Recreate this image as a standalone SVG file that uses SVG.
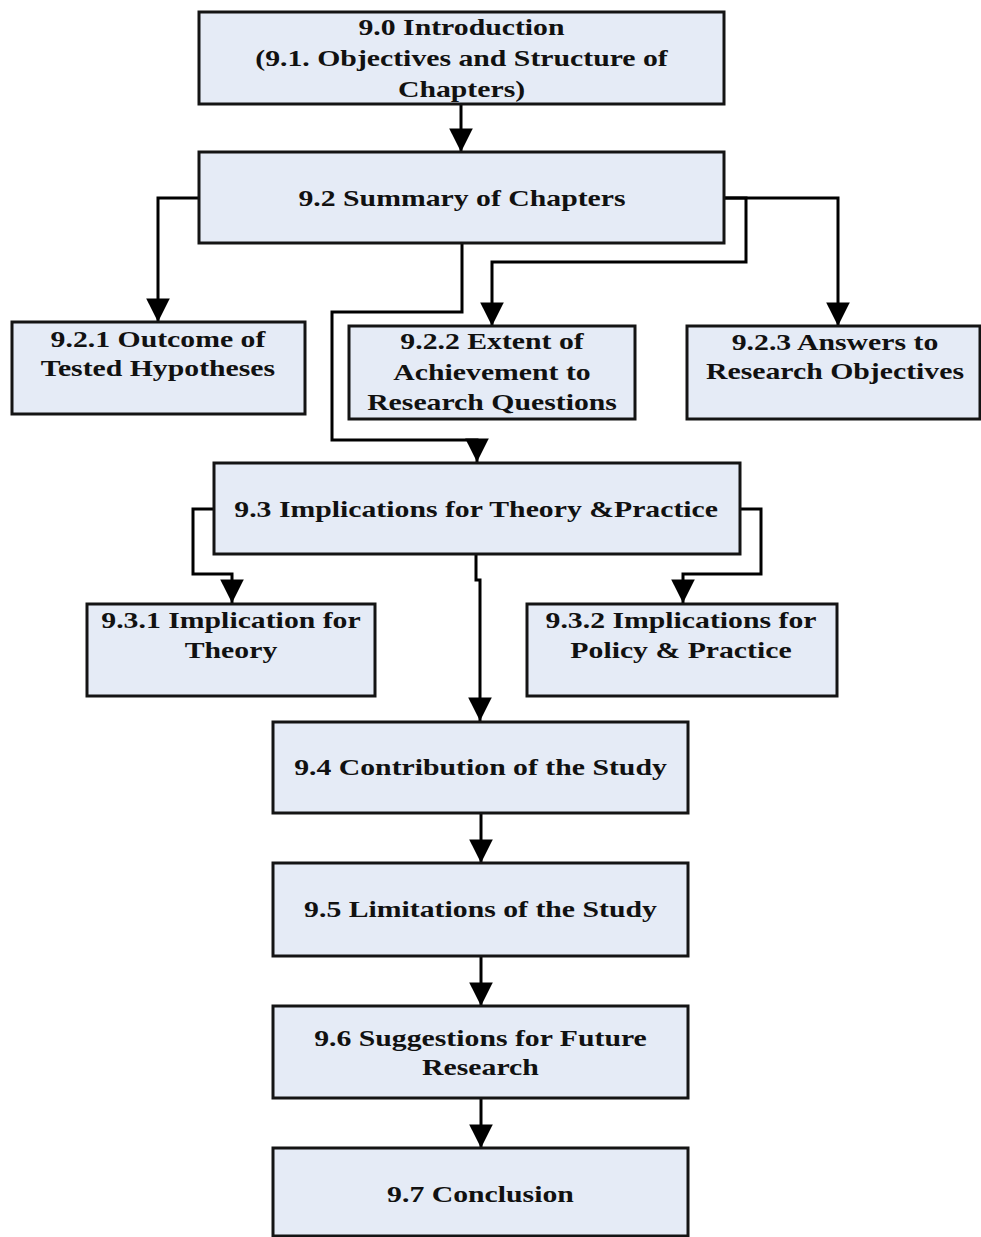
<svg xmlns="http://www.w3.org/2000/svg" width="981" height="1237" viewBox="0 0 981 1237">
<defs>
<style>
.box{fill:#e5ebf6;stroke:#141414;stroke-width:3}
.con{fill:none;stroke:#000;stroke-width:3;marker-end:url(#ah)}
.t{font-family:"Liberation Serif","Times New Roman",serif;font-weight:bold;font-size:24px;fill:#111;text-anchor:middle}
</style>
<marker id="ah" markerUnits="userSpaceOnUse" markerWidth="24" markerHeight="30" viewBox="0 0 22 28" refX="22" refY="11" orient="auto">
<path d="M0 0 L22 11 L0 22 Z" fill="#000"/>
</marker>
</defs>
<rect width="981" height="1237" fill="#fff"/>
<g id="connectors">
<path class="con" d="M461 104 V152"/>
<path class="con" d="M199 198 H158 V322"/>
<path class="con" d="M725 198 H746 V262 H492 V326"/>
<path class="con" d="M725 198 H838 V326"/>
<path class="con" d="M462 243 V312 H332 V440 H477 V462"/>
<path class="con" d="M214 509 H193 V574 H232 V603"/>
<path class="con" d="M740 509 H761 V574 H683 V603"/>
<path class="con" d="M476 554 V580 H480 V721"/>
<path class="con" d="M481 813 V863"/>
<path class="con" d="M481 956 V1006"/>
<path class="con" d="M481 1098 V1148"/>
</g>
<g id="n90"><rect class="box" x="199" y="12" width="525" height="92"/>
<g transform="scale(1.24 1)"><text class="t" x="372.2" y="35">9.0 Introduction</text><text class="t" x="372.2" y="66">(9.1. Objectives and Structure of</text><text class="t" x="372.2" y="97">Chapters)</text></g></g>
<g id="n92"><rect class="box" x="199" y="152" width="525" height="91"/>
<g transform="scale(1.24 1)"><text class="t" x="372.6" y="206">9.2 Summary of Chapters</text></g></g>
<g id="n921"><rect class="box" x="12" y="322" width="293" height="92"/>
<g transform="scale(1.24 1)"><text class="t" x="127.4" y="347">9.2.1 Outcome of</text><text class="t" x="127.4" y="376">Tested Hypotheses</text></g></g>
<g id="n922"><rect class="box" x="349" y="326" width="286" height="93"/>
<g transform="scale(1.24 1)"><text class="t" x="396.8" y="349">9.2.2 Extent of</text><text class="t" x="396.8" y="380">Achievement to</text><text class="t" x="396.8" y="410">Research Questions</text></g></g>
<g id="n923"><rect class="box" x="687" y="326" width="293" height="93"/>
<g transform="scale(1.24 1)"><text class="t" x="673.4" y="350">9.2.3 Answers to</text><text class="t" x="673.4" y="379">Research Objectives</text></g></g>
<g id="n93"><rect class="box" x="214" y="463" width="526" height="91"/>
<g transform="scale(1.24 1)"><text class="t" x="384" y="517">9.3 Implications for Theory &amp;Practice</text></g></g>
<g id="n931"><rect class="box" x="87" y="604" width="288" height="92"/>
<g transform="scale(1.24 1)"><text class="t" x="186.3" y="628">9.3.1 Implication for</text><text class="t" x="186.3" y="658">Theory</text></g></g>
<g id="n932"><rect class="box" x="527" y="604" width="310" height="92"/>
<g transform="scale(1.24 1)"><text class="t" x="549.2" y="628">9.3.2 Implications for</text><text class="t" x="549.2" y="658">Policy &amp; Practice</text></g></g>
<g id="n94"><rect class="box" x="273" y="722" width="415" height="91"/>
<g transform="scale(1.24 1)"><text class="t" x="387.5" y="775">9.4 Contribution of the Study</text></g></g>
<g id="n95"><rect class="box" x="273" y="863" width="415" height="93"/>
<g transform="scale(1.24 1)"><text class="t" x="387.5" y="917">9.5 Limitations of the Study</text></g></g>
<g id="n96"><rect class="box" x="273" y="1006" width="415" height="92"/>
<g transform="scale(1.24 1)"><text class="t" x="387.5" y="1046">9.6 Suggestions for Future</text><text class="t" x="387.5" y="1075">Research</text></g></g>
<g id="n97"><rect class="box" x="273" y="1148" width="415" height="88"/>
<g transform="scale(1.24 1)"><text class="t" x="387.5" y="1202">9.7 Conclusion</text></g></g>
</svg>
